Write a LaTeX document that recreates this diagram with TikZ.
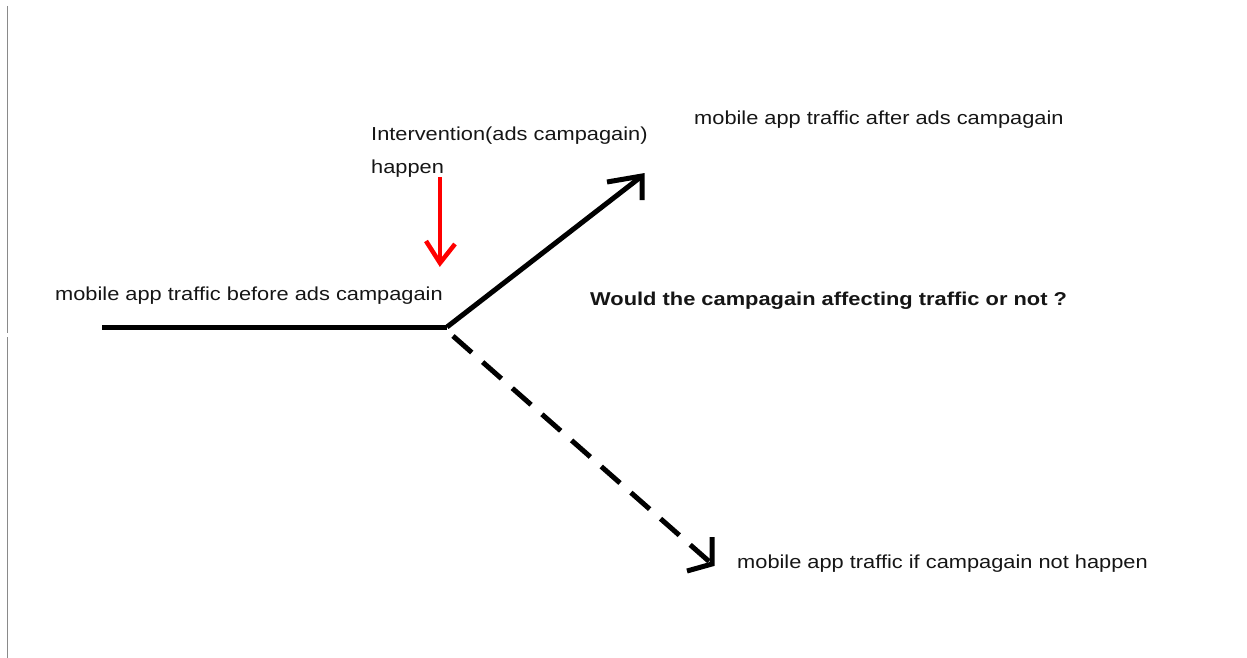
\documentclass[tikz,border=0pt]{standalone}
\usepackage{fontspec}
\usetikzlibrary{calc}
\newfontfamily\labfont[FakeStretch=1.16]{Liberation Sans}
\newfontfamily\boldfont[FakeStretch=1.175]{Liberation Sans Bold}
\definecolor{txt}{HTML}{151515}
\definecolor{frame}{HTML}{8A8A8A}
\definecolor{redarrow}{HTML}{FF0000}
\tikzset{
  lab/.style={inner sep=0pt, anchor=base west, text=txt, font=\labfont\fontsize{18.8}{22}\selectfont},
  boldlab/.style={lab, font=\boldfont\fontsize{18.6}{22}\selectfont},
  stroke/.style={line width=5pt, black, line cap=butt, line join=miter},
  dashstroke/.style={stroke, dash pattern=on 25pt off 14.5pt},
  redstroke/.style={line width=4.5pt, redarrow},
  border/.style={line width=1.5pt, frame}
}
\begin{document}
\begin{tikzpicture}[x=1pt,y=-1pt]
\useasboundingbox (0,0) rectangle (1247,658);
% left border
\coordinate (b1) at (7.5,6);
\coordinate (b2) at (7.5,333);
\coordinate (b3) at (7.5,337);
\coordinate (b4) at (7.5,658);
\draw[border] (b1) -- (b2);
\draw[border] (b3) -- (b4);
% labels
\node[lab] (before) at (55,300.5) {mobile app traffic before ads campagain};
\node[lab] (interv) at (371,141) {Intervention(ads campagain)};
\node[lab] (happen) at (371,173) {happen};
\node[lab] (after) at (694,124.5) {mobile app traffic after ads campagain};
\node[boldlab] (question) at (590,305) {Would the campagain affecting traffic or not ?};
\node[lab] (nothappen) at (737,568) {mobile app traffic if campagain not happen};
% points
\coordinate (start) at (102,327);
\coordinate (junction) at (447,327);
\coordinate (uptip) at (642,176);
\coordinate (dstart) at (453,336);
\coordinate (dtip) at (712,564);
\coordinate (rtop) at (440,177);
\coordinate (rtip) at (440,263);
% before line
\draw[stroke] (start) -- (junction);
% up arrow
\draw[stroke] (junction) -- (uptip);
\draw[stroke] ($(uptip)+(-35,6)$) -- (uptip) -- ++(0,24);
% dashed arrow
\draw[dashstroke] (dstart) -- (dtip);
\draw[stroke] ($(dtip)+(0,-27)$) -- (dtip) -- ++(-25,7);
% red arrow
\draw[redstroke] (rtop) -- (rtip);
\draw[redstroke] ($(rtip)+(-14,-22)$) -- (rtip) -- ++(15,-19);
\end{tikzpicture}
\end{document}
